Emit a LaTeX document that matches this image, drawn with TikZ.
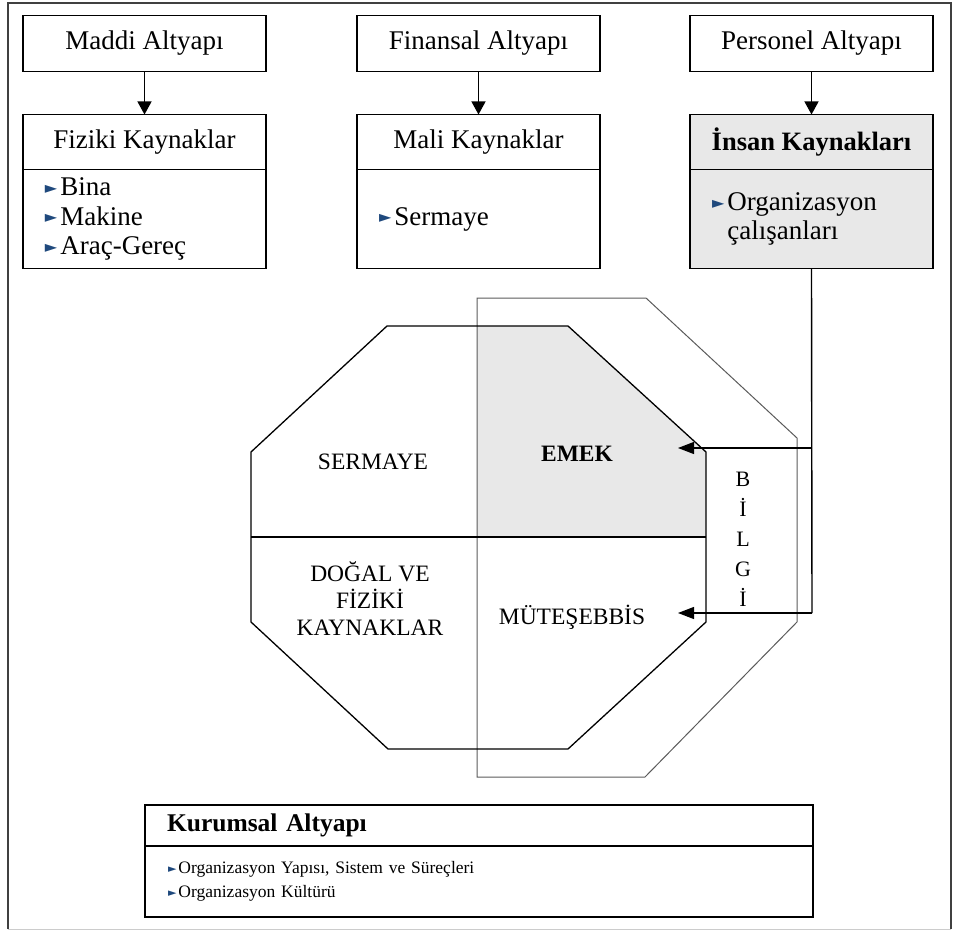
\documentclass[tikz,border=0pt]{standalone}
\usepackage{fontspec}
\setmainfont{Liberation Serif}
\newfontfamily\symfont{DejaVu Sans}
\usetikzlibrary{arrows.meta,positioning}

\definecolor{panelgray}{RGB}{232,232,232}
\definecolor{bulletblue}{RGB}{31,73,125}
\definecolor{framegray}{RGB}{64,64,64}
\definecolor{outlinegray}{RGB}{90,90,90}

\newcommand{\bul}{{\symfont\fontsize{16}{16}\selectfont\color{bulletblue}\raisebox{0.25ex}{►}}\hspace{3pt}}
\newcommand{\sbul}{{\symfont\fontsize{11}{11}\selectfont\color{bulletblue}\raisebox{0.25ex}{►}}\hspace{2pt}}

\tikzset{
  box/.style={draw, line width=1.4pt, outer sep=0pt, inner sep=0pt, minimum width=243pt},
  headbox/.style={box, minimum height=56pt, font=\fontsize{27}{30}\selectfont},
  listbox/.style={box, minimum height=99pt, inner xsep=22pt, text width=199pt, align=left,
    font=\fontsize{27}{29.5}\selectfont},
  arr/.style={line width=1.2pt, -{Triangle[length=13pt,width=14pt]}},
  sidearr/.style={line width=1.2pt, -{Triangle[length=16pt,width=12pt]}},
  octlabel/.style={align=center, font=\fontsize{23.5}{27}\selectfont},
}

\begin{document}
\begin{tikzpicture}[x=1pt, y=-1pt]
  \useasboundingbox (0,0) rectangle (954,931);

  % outer frame
  \draw[framegray, line width=1.4pt] (8,929) -- (8,3) -- (951,3) -- (951,929);
  \draw[gray!40, line width=1pt] (8,929) -- (951,929);

  % top row
  \node[headbox] (maddi) at (144.5,43.5) {Maddi Altyapı};
  \node[headbox] (finansal) at (478.5,43.5) {Finansal Altyapı};
  \node[headbox] (personel) at (811.5,43.5) {Personel Altyapı};

  \node[headbox, minimum height=55pt, below=43pt of maddi] (fiziki) {Fiziki Kaynaklar};
  \node[listbox, below=0pt of fiziki] (fizikilist) {\bul Bina\\\bul Makine\\\bul Araç-Gereç};
  \node[headbox, minimum height=55pt, below=43pt of finansal] (mali) {Mali Kaynaklar};
  \node[listbox, below=0pt of mali] (malilist) {\bul Sermaye};
  \node[headbox, minimum height=55pt, fill=panelgray, below=43pt of personel,
    font=\fontsize{26.5}{30}\selectfont\bfseries] (insan) {İnsan Kaynakları};
  \node[listbox, fill=panelgray, below=0pt of insan] (insanlist)
    {\bul Organizasyon\\\hphantom{\bul}çalışanları};

  \draw[arr] (maddi) -- (fiziki);
  \draw[arr] (finansal) -- (mali);
  \draw[arr] (personel) -- (insan);

  % factor octagon
  \coordinate (O1) at (387,326);
  \coordinate (O2) at (568,326);
  \coordinate (O3) at (706,452);
  \coordinate (O4) at (706,622);
  \coordinate (O5) at (568,749);
  \coordinate (O6) at (388,749);
  \coordinate (O7) at (251,622);
  \coordinate (O8) at (251,452);

  \fill[panelgray] (477,326) -- (O2) -- (O3) -- (706,537) -- (477,537) -- cycle;
  \draw[outlinegray, line width=1pt] (477,298) -- (646,298) -- (797,438) -- (797,622)
    -- (645,777) -- (477,777) -- cycle;
  \draw[line width=1.3pt] (O1) -- (O2) -- (O3) -- (O4) -- (O5) -- (O6) -- (O7) -- (O8) -- cycle;
  \draw[line width=1.3pt] (251,537) -- (706,537);

  \node[octlabel] (sermaye) at (373,462) {SERMAYE};
  \node[octlabel, font=\fontsize{23.5}{27}\selectfont\bfseries] (emek) at (577,454) {EMEK};
  \node[octlabel] (dogal) at (370,599) {DOĞAL VE\\FİZİKİ\\KAYNAKLAR};
  \node[octlabel] (mutesebbis) at (572,617) {MÜTEŞEBBİS};
  \node[align=center, font=\fontsize{22}{30}\selectfont] (bilgi) at (743,539) {B\\İ\\L\\G\\İ};

  % knowledge lines
  \coordinate (bilgitop) at (812,448);
  \coordinate (bilgibot) at (812,613);
  \coordinate (emektip) at (678,448);
  \coordinate (muttip) at (678,613);
  \draw[line width=1.4pt] (insanlist.south) -- (bilgibot);
  \draw[sidearr] (bilgitop) -- (emektip);
  \draw[sidearr] (bilgibot) -- (muttip);

  % institutional box
  \node[box, minimum width=668pt, minimum height=41pt, inner xsep=22pt, text width=624pt,
    align=left, font=\fontsize{25.5}{30}\selectfont\bfseries] (kurumsal) at (479,825.5) {Kurumsal Altyapı};
  \node[box, minimum width=668pt, minimum height=71pt, inner xsep=23pt, text width=622pt,
    align=left, font=\fontsize{17.5}{24}\selectfont, below=0pt of kurumsal] (kurumsallist)
    {\sbul Organizasyon Yapısı, Sistem ve Süreçleri\\\sbul Organizasyon Kültürü};
\end{tikzpicture}
\end{document}
